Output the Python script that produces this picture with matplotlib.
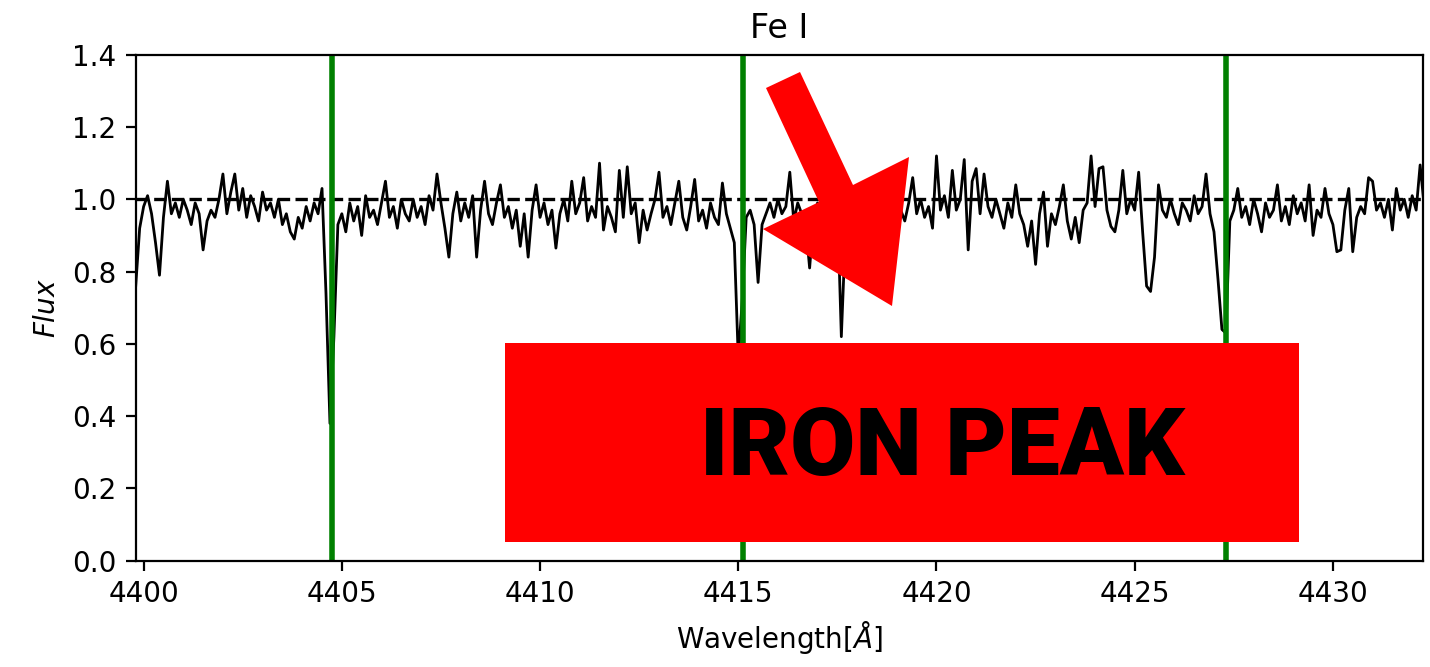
import numpy as np
import matplotlib
matplotlib.use("Agg")
import matplotlib.pyplot as plt
from matplotlib.patches import Polygon, Rectangle
from matplotlib.transforms import Affine2D

# normalised flux, sampled every 0.1 A starting at 4399.8 A
wave_start = 4399.8
wave_step = 0.1
flux = [
    0.76, 0.92, 0.98, 1.01, 0.96, 0.88, 0.79, 0.95, 1.05, 0.96,
    0.99, 0.95, 1.00, 0.97, 0.93, 0.99, 0.96, 0.86, 0.94, 0.97,
    0.95, 1.00, 1.07, 0.96, 1.02, 1.07, 0.97, 1.03, 0.95, 1.01,
    0.98, 0.94, 1.02, 0.97, 0.99, 0.95, 1.00, 0.93, 0.96, 0.91,
    0.89, 0.95, 0.92, 0.98, 0.94, 0.99, 0.96, 1.03, 0.74, 0.38,
    0.62, 0.93, 0.96, 0.91, 0.99, 0.94, 0.98, 0.90, 1.01, 0.95,
    0.97, 0.93, 0.99, 1.05, 0.95, 0.98, 0.92, 1.00, 0.96, 0.94,
    1.00, 0.95, 0.98, 0.93, 1.01, 0.97, 1.07, 0.99, 0.92, 0.84,
    0.96, 1.02, 0.94, 0.99, 0.95, 1.01, 0.84, 0.97, 1.05, 0.96,
    0.93, 0.99, 1.04, 0.95, 0.98, 0.92, 0.97, 0.87, 0.96, 0.84,
    0.97, 1.04, 0.95, 0.99, 0.93, 0.97, 0.865, 0.96, 1.00, 0.94,
    1.05, 0.96, 0.99, 1.06, 0.94, 0.98, 0.95, 1.10, 0.915, 0.98,
    0.95, 0.91, 1.08, 0.95, 1.09, 0.96, 0.99, 0.88, 0.97, 0.915,
    0.96, 1.00, 1.075, 0.95, 0.98, 0.93, 0.99, 1.05, 0.95, 0.915,
    0.98, 1.055, 0.94, 0.97, 0.92, 0.99, 0.95, 0.93, 1.045, 0.96,
    0.92, 0.88, 0.56, 0.72, 0.95, 0.97, 0.93, 0.77, 0.93, 0.96,
    0.99, 0.95, 1.00, 0.96, 0.98, 1.075, 0.94, 0.99, 0.96, 0.93,
    0.81, 0.95, 0.99, 0.96, 1.01, 0.97, 0.95, 0.99, 0.62, 0.90,
    0.98, 0.95, 1.00, 0.96, 0.93, 0.99, 0.97, 0.94, 1.01, 0.96,
    0.98, 0.95, 1.02, 0.97, 0.94, 0.99, 1.06, 0.96, 1.00, 0.95,
    0.98, 0.92, 1.12, 0.97, 1.01, 0.95, 1.08, 0.97, 1.00, 1.11,
    0.86, 1.05, 1.085, 0.96, 1.07, 0.98, 0.95, 1.00, 0.96, 0.92,
    0.99, 0.95, 1.04, 0.96, 0.93, 0.87, 0.94, 0.82, 0.96, 1.02,
    0.87, 0.96, 0.93, 0.98, 1.04, 0.94, 0.89, 0.95, 0.88, 0.97,
    0.99, 1.12, 0.98, 1.085, 1.09, 0.97, 0.925, 0.91, 0.97, 1.08,
    0.96, 1.00, 0.97, 1.075, 0.91, 0.76, 0.745, 0.84, 1.04, 0.97,
    0.95, 1.00, 0.96, 0.93, 0.99, 0.97, 0.94, 1.01, 0.96, 0.98,
    1.07, 0.96, 0.91, 0.78, 0.64, 0.63, 0.94, 0.97, 1.03, 0.95,
    0.98, 0.93, 1.00, 0.96, 0.91, 0.99, 0.95, 0.97, 1.04, 0.94,
    0.98, 0.93, 1.01, 0.96, 0.99, 0.94, 1.04, 0.90, 0.97, 0.95,
    1.03, 0.96, 0.93, 0.855, 0.86, 0.97, 1.03, 0.855, 0.95, 0.98,
    0.96, 1.06, 1.05, 0.97, 0.99, 0.95, 1.00, 0.915, 1.03, 0.97,
    1.00, 0.95, 1.01, 0.97, 1.095, 0.985,
]
wave = wave_start + wave_step * np.arange(len(flux))

# Fe I line centres
fe_lines = [4404.75, 4415.12, 4427.31]

W, H, DPI = 1430, 667, 200
fig = plt.figure(figsize=(W / DPI, H / DPI), dpi=DPI)
ax = fig.add_axes([135.7 / W, 1 - 560.8 / H, (1423.3 - 135.7) / W, (560.8 - 54.7) / H])

ax.plot(wave, flux, color="black", lw=1)
ax.axhline(1.0, color="black", ls="--", lw=1.2)
for line in fe_lines:
    ax.axvline(line, color="green", lw=2)

ax.set_xlim(4399.8, 4432.28)
ax.set_ylim(0, 1.4)
ax.set_title("Fe I")
ax.set_xlabel(r"Wavelength[$\AA$]")
ax.set_ylabel(r"$Flux$")

# banner drawn on top, positioned in pixel units (origin top-left)
px = Affine2D().scale(1 / W, -1 / H).translate(0, 1) + fig.transFigure

arrow = Polygon([(766, 88), (800, 72), (853, 185), (909, 157), (892, 306),
                 (763, 229), (819, 202)],
                closed=True, facecolor="#ff0000", edgecolor="none", transform=px)
fig.patches.append(arrow)

box = Rectangle((505, 542), 794, -199, facecolor="#ff0000", edgecolor="none",
                transform=px)
fig.patches.append(box)

fig.text(942, 449, "IRON PEAK", transform=px, ha="center", va="center",
         fontsize=34, fontweight="black", color="black",
         family=["Roboto", "DejaVu Sans"])

fig.savefig("out.png", dpi=DPI)
